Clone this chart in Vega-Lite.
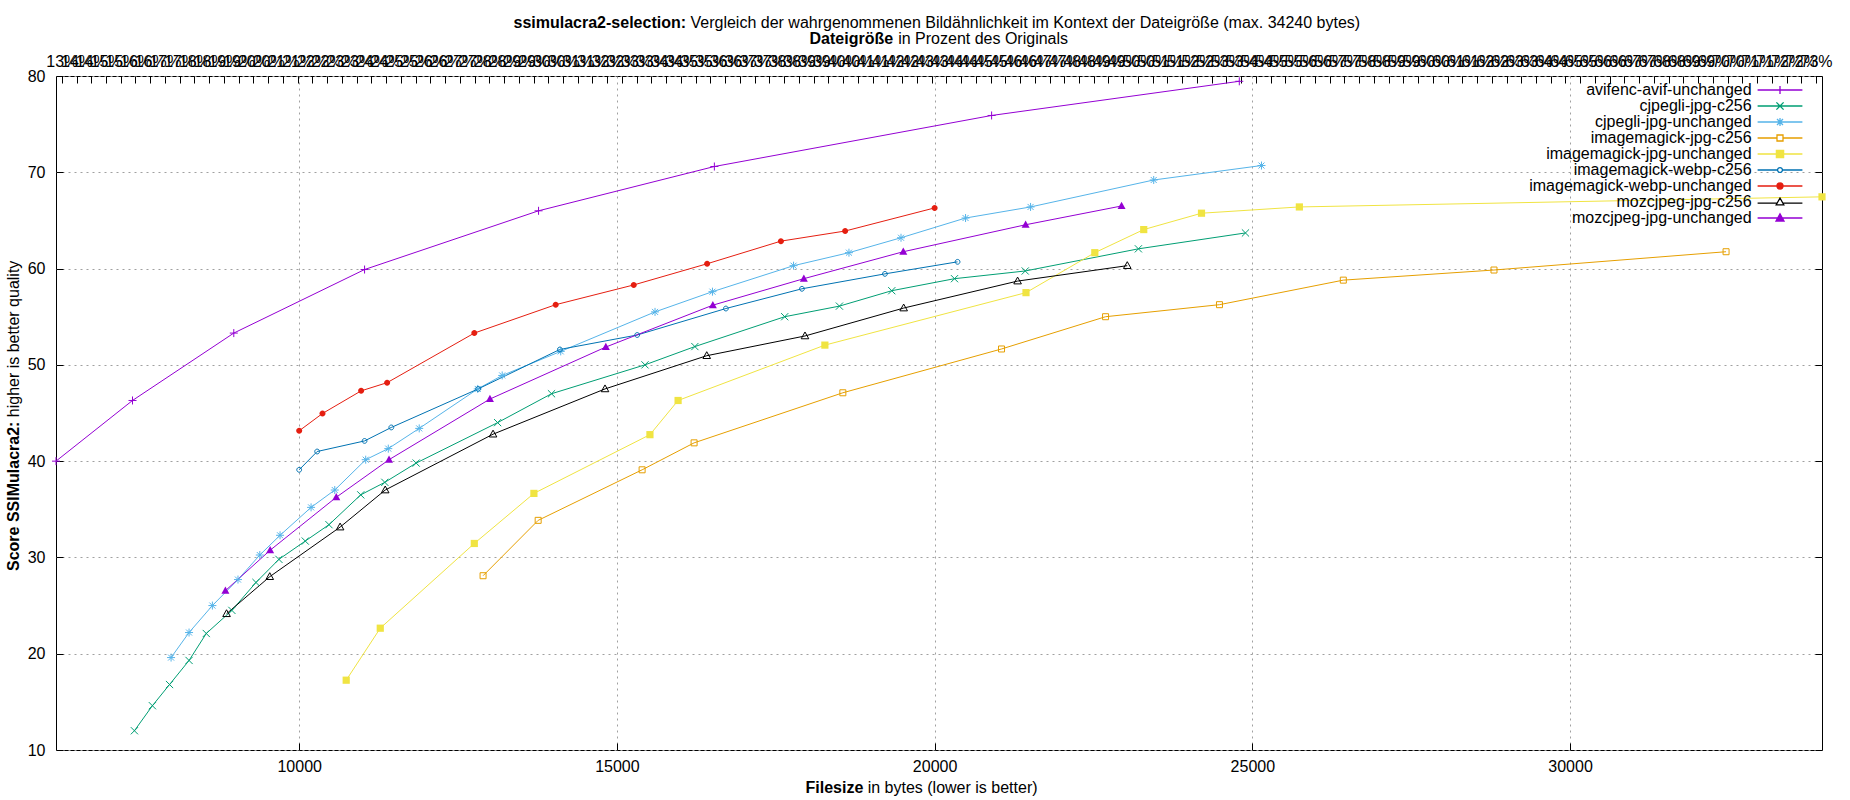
{
  "$schema": "https://vega.github.io/schema/vega-lite/v6.json",
  "description": "ssimulacra2-selection: score vs file size per encoder",
  "width": 1766,
  "height": 674,
  "autosize": {"type": "none"},
  "padding": {"left": 56, "top": 76, "right": 28, "bottom": 50},
  "background": "white",
  "config": {
    "view": {"stroke": "black", "strokeWidth": 1},
    "font": "Liberation Sans",
    "axis": {
      "labelFont": "Liberation Sans", "labelFontSize": 16, "labelColor": "black",
      "titleFont": "Liberation Sans", "titleFontSize": 16, "titleColor": "black",
      "titleFontWeight": "normal",
      "domain": false, "tickColor": "black", "tickWidth": 1, "tickSize": -7,
      "gridColor": "#a0a0a0", "gridDash": [2, 4], "gridWidth": 1, "gridOpacity": 1,
      "labelFlush": false, "labelOverlap": false, "labelBound": false
    }
  },
  "data": {
    "values": [
      {"series": "avifenc-avif-unchanged", "bytes": 6173, "score": 40.0},
      {"series": "avifenc-avif-unchanged", "bytes": 7377, "score": 46.3},
      {"series": "avifenc-avif-unchanged", "bytes": 8971, "score": 53.3},
      {"series": "avifenc-avif-unchanged", "bytes": 11029, "score": 59.9},
      {"series": "avifenc-avif-unchanged", "bytes": 13767, "score": 66.0},
      {"series": "avifenc-avif-unchanged", "bytes": 16534, "score": 70.6},
      {"series": "avifenc-avif-unchanged", "bytes": 20897, "score": 75.9},
      {"series": "avifenc-avif-unchanged", "bytes": 24795, "score": 79.45},

      {"series": "cjpegli-jpg-c256", "bytes": 7407, "score": 12.0},
      {"series": "cjpegli-jpg-c256", "bytes": 7690, "score": 14.6},
      {"series": "cjpegli-jpg-c256", "bytes": 7960, "score": 16.8},
      {"series": "cjpegli-jpg-c256", "bytes": 8267, "score": 19.3},
      {"series": "cjpegli-jpg-c256", "bytes": 8538, "score": 22.1},
      {"series": "cjpegli-jpg-c256", "bytes": 8941, "score": 24.5},
      {"series": "cjpegli-jpg-c256", "bytes": 9320, "score": 27.4},
      {"series": "cjpegli-jpg-c256", "bytes": 9681, "score": 29.8},
      {"series": "cjpegli-jpg-c256", "bytes": 10096, "score": 31.7},
      {"series": "cjpegli-jpg-c256", "bytes": 10469, "score": 33.4},
      {"series": "cjpegli-jpg-c256", "bytes": 10969, "score": 36.5},
      {"series": "cjpegli-jpg-c256", "bytes": 11348, "score": 37.8},
      {"series": "cjpegli-jpg-c256", "bytes": 11841, "score": 39.8},
      {"series": "cjpegli-jpg-c256", "bytes": 13123, "score": 44.0},
      {"series": "cjpegli-jpg-c256", "bytes": 13971, "score": 47.0},
      {"series": "cjpegli-jpg-c256", "bytes": 15442, "score": 50.0},
      {"series": "cjpegli-jpg-c256", "bytes": 16227, "score": 51.9},
      {"series": "cjpegli-jpg-c256", "bytes": 17641, "score": 55.0},
      {"series": "cjpegli-jpg-c256", "bytes": 18502, "score": 56.1},
      {"series": "cjpegli-jpg-c256", "bytes": 19326, "score": 57.7},
      {"series": "cjpegli-jpg-c256", "bytes": 20313, "score": 58.95},
      {"series": "cjpegli-jpg-c256", "bytes": 21426, "score": 59.75},
      {"series": "cjpegli-jpg-c256", "bytes": 23207, "score": 62.05},
      {"series": "cjpegli-jpg-c256", "bytes": 24892, "score": 63.7},

      {"series": "cjpegli-jpg-unchanged", "bytes": 7984, "score": 19.6},
      {"series": "cjpegli-jpg-unchanged", "bytes": 8267, "score": 22.2},
      {"series": "cjpegli-jpg-unchanged", "bytes": 8634, "score": 25.0},
      {"series": "cjpegli-jpg-unchanged", "bytes": 9037, "score": 27.7},
      {"series": "cjpegli-jpg-unchanged", "bytes": 9380, "score": 30.25},
      {"series": "cjpegli-jpg-unchanged", "bytes": 9699, "score": 32.3},
      {"series": "cjpegli-jpg-unchanged", "bytes": 10187, "score": 35.2},
      {"series": "cjpegli-jpg-unchanged", "bytes": 10560, "score": 37.0},
      {"series": "cjpegli-jpg-unchanged", "bytes": 11047, "score": 40.15},
      {"series": "cjpegli-jpg-unchanged", "bytes": 11402, "score": 41.3},
      {"series": "cjpegli-jpg-unchanged", "bytes": 11889, "score": 43.4},
      {"series": "cjpegli-jpg-unchanged", "bytes": 12810, "score": 47.5},
      {"series": "cjpegli-jpg-unchanged", "bytes": 13195, "score": 48.9},
      {"series": "cjpegli-jpg-unchanged", "bytes": 14116, "score": 51.4},
      {"series": "cjpegli-jpg-unchanged", "bytes": 15600, "score": 55.5},
      {"series": "cjpegli-jpg-unchanged", "bytes": 16504, "score": 57.6},
      {"series": "cjpegli-jpg-unchanged", "bytes": 17780, "score": 60.3},
      {"series": "cjpegli-jpg-unchanged", "bytes": 18652, "score": 61.65},
      {"series": "cjpegli-jpg-unchanged", "bytes": 19471, "score": 63.2},
      {"series": "cjpegli-jpg-unchanged", "bytes": 20487, "score": 65.25},
      {"series": "cjpegli-jpg-unchanged", "bytes": 21510, "score": 66.4},
      {"series": "cjpegli-jpg-unchanged", "bytes": 23448, "score": 69.2},
      {"series": "cjpegli-jpg-unchanged", "bytes": 25144, "score": 70.7},

      {"series": "imagemagick-jpg-c256", "bytes": 12894, "score": 28.1},
      {"series": "imagemagick-jpg-c256", "bytes": 13761, "score": 33.85},
      {"series": "imagemagick-jpg-c256", "bytes": 15397, "score": 39.1},
      {"series": "imagemagick-jpg-c256", "bytes": 16215, "score": 41.9},
      {"series": "imagemagick-jpg-c256", "bytes": 18556, "score": 47.1},
      {"series": "imagemagick-jpg-c256", "bytes": 21053, "score": 51.65},
      {"series": "imagemagick-jpg-c256", "bytes": 22690, "score": 55.0},
      {"series": "imagemagick-jpg-c256", "bytes": 24483, "score": 56.25},
      {"series": "imagemagick-jpg-c256", "bytes": 26432, "score": 58.8},
      {"series": "imagemagick-jpg-c256", "bytes": 28803, "score": 59.85},
      {"series": "imagemagick-jpg-c256", "bytes": 32455, "score": 61.75},

      {"series": "imagemagick-jpg-unchanged", "bytes": 10740, "score": 17.25},
      {"series": "imagemagick-jpg-unchanged", "bytes": 11276, "score": 22.65},
      {"series": "imagemagick-jpg-unchanged", "bytes": 12756, "score": 31.45},
      {"series": "imagemagick-jpg-unchanged", "bytes": 13694, "score": 36.65},
      {"series": "imagemagick-jpg-unchanged", "bytes": 15520, "score": 42.75},
      {"series": "imagemagick-jpg-unchanged", "bytes": 15963, "score": 46.3},
      {"series": "imagemagick-jpg-unchanged", "bytes": 18273, "score": 52.05},
      {"series": "imagemagick-jpg-unchanged", "bytes": 21438, "score": 57.5},
      {"series": "imagemagick-jpg-unchanged", "bytes": 22521, "score": 61.65},
      {"series": "imagemagick-jpg-unchanged", "bytes": 23291, "score": 64.05},
      {"series": "imagemagick-jpg-unchanged", "bytes": 24200, "score": 65.75},
      {"series": "imagemagick-jpg-unchanged", "bytes": 25740, "score": 66.4},
      {"series": "imagemagick-jpg-unchanged", "bytes": 33965, "score": 67.45},

      {"series": "imagemagick-webp-c256", "bytes": 10000, "score": 39.1},
      {"series": "imagemagick-webp-c256", "bytes": 10283, "score": 41.0},
      {"series": "imagemagick-webp-c256", "bytes": 11029, "score": 42.1},
      {"series": "imagemagick-webp-c256", "bytes": 11450, "score": 43.5},
      {"series": "imagemagick-webp-c256", "bytes": 12816, "score": 47.5},
      {"series": "imagemagick-webp-c256", "bytes": 14103, "score": 51.6},
      {"series": "imagemagick-webp-c256", "bytes": 15319, "score": 53.1},
      {"series": "imagemagick-webp-c256", "bytes": 16715, "score": 55.85},
      {"series": "imagemagick-webp-c256", "bytes": 17912, "score": 57.9},
      {"series": "imagemagick-webp-c256", "bytes": 19218, "score": 59.45},
      {"series": "imagemagick-webp-c256", "bytes": 20361, "score": 60.7},

      {"series": "imagemagick-webp-unchanged", "bytes": 10000, "score": 43.15},
      {"series": "imagemagick-webp-unchanged", "bytes": 10367, "score": 44.95},
      {"series": "imagemagick-webp-unchanged", "bytes": 10975, "score": 47.3},
      {"series": "imagemagick-webp-unchanged", "bytes": 11384, "score": 48.15},
      {"series": "imagemagick-webp-unchanged", "bytes": 12756, "score": 53.3},
      {"series": "imagemagick-webp-unchanged", "bytes": 14037, "score": 56.25},
      {"series": "imagemagick-webp-unchanged", "bytes": 15265, "score": 58.3},
      {"series": "imagemagick-webp-unchanged", "bytes": 16420, "score": 60.5},
      {"series": "imagemagick-webp-unchanged", "bytes": 17581, "score": 62.85},
      {"series": "imagemagick-webp-unchanged", "bytes": 18592, "score": 63.9},
      {"series": "imagemagick-webp-unchanged", "bytes": 20000, "score": 66.3},

      {"series": "mozcjpeg-jpg-c256", "bytes": 8857, "score": 24.15},
      {"series": "mozcjpeg-jpg-c256", "bytes": 9537, "score": 28.0},
      {"series": "mozcjpeg-jpg-c256", "bytes": 10644, "score": 33.15},
      {"series": "mozcjpeg-jpg-c256", "bytes": 11354, "score": 37.0},
      {"series": "mozcjpeg-jpg-c256", "bytes": 13051, "score": 42.8},
      {"series": "mozcjpeg-jpg-c256", "bytes": 14813, "score": 47.5},
      {"series": "mozcjpeg-jpg-c256", "bytes": 16414, "score": 50.95},
      {"series": "mozcjpeg-jpg-c256", "bytes": 17960, "score": 53.0},
      {"series": "mozcjpeg-jpg-c256", "bytes": 19513, "score": 55.9},
      {"series": "mozcjpeg-jpg-c256", "bytes": 21306, "score": 58.7},
      {"series": "mozcjpeg-jpg-c256", "bytes": 23032, "score": 60.3},

      {"series": "mozcjpeg-jpg-unchanged", "bytes": 8839, "score": 26.55},
      {"series": "mozcjpeg-jpg-unchanged", "bytes": 9543, "score": 30.75},
      {"series": "mozcjpeg-jpg-unchanged", "bytes": 10584, "score": 36.25},
      {"series": "mozcjpeg-jpg-unchanged", "bytes": 11414, "score": 40.15},
      {"series": "mozcjpeg-jpg-unchanged", "bytes": 13002, "score": 46.45},
      {"series": "mozcjpeg-jpg-unchanged", "bytes": 14826, "score": 51.85},
      {"series": "mozcjpeg-jpg-unchanged", "bytes": 16510, "score": 56.2},
      {"series": "mozcjpeg-jpg-unchanged", "bytes": 17942, "score": 58.95},
      {"series": "mozcjpeg-jpg-unchanged", "bytes": 19507, "score": 61.75},
      {"series": "mozcjpeg-jpg-unchanged", "bytes": 21432, "score": 64.55},
      {"series": "mozcjpeg-jpg-unchanged", "bytes": 22942, "score": 66.5}
    ]
  },
  "resolve": {"axis": {"x": "independent", "y": "independent"}},
  "layer": [
    {
      "mark": {"type": "line", "strokeWidth": 1},
      "encoding": {
        "x": {
          "field": "bytes", "type": "quantitative",
          "scale": {"domain": [6173, 33965], "nice": false, "zero": false},
          "axis": {
            "orient": "bottom", "values": [10000, 15000, 20000, 25000, 30000], "format": "d",
            "grid": true, "labelBaseline": "alphabetic", "labelPadding": 28.5,
            "title": "Filesize", "titleFontWeight": "bold",
            "titleX": 749, "titleY": 42, "titleAlign": "left", "titleBaseline": "alphabetic", "titleAngle": 0
          }
        },
        "y": {
          "field": "score", "type": "quantitative",
          "scale": {"domain": [10, 80], "nice": false, "zero": false},
          "axis": {
            "orient": "left", "values": [10, 20, 30, 40, 50, 60, 70, 80],
            "grid": true, "labelPadding": 18, "labelBaseline": "middle", "labelAlign": "right",
            "title": "Score SSIMulacra2:", "titleFontWeight": "bold", "titleAngle": 270,
            "titleX": -38, "titleY": 494.5, "titleAlign": "left", "titleBaseline": "alphabetic"
          }
        },
        "color": {
          "field": "series", "type": "nominal",
          "scale": {
            "domain": ["avifenc-avif-unchanged", "cjpegli-jpg-c256", "cjpegli-jpg-unchanged", "imagemagick-jpg-c256", "imagemagick-jpg-unchanged", "imagemagick-webp-c256", "imagemagick-webp-unchanged", "mozcjpeg-jpg-c256", "mozcjpeg-jpg-unchanged"],
            "range": ["#9400d3", "#009e73", "#56b4e9", "#e69f00", "#f0e442", "#0072b2", "#e51e10", "#000000", "#9400d3"]
          },
          "legend": {
            "title": null, "orient": "none", "legendX": 1716, "legendY": 6, "direction": "vertical",
            "padding": 0, "rowPadding": -2, "symbolSize": 64,
            "labelAlign": "right", "labelOffset": -36.4, "labelLimit": 400,
            "labelFont": "Liberation Sans", "labelFontSize": 16, "labelColor": "black",
            "encode": {
              "symbols": {
                "update": {
                  "shape": {"signal": "{'avifenc-avif-unchanged': 'M-5.6,0H5.6M-1,0H1M0,-1V1', 'cjpegli-jpg-c256': 'M-5.6,0H5.6M-0.9,-0.9L0.9,0.9M-0.9,0.9L0.9,-0.9', 'cjpegli-jpg-unchanged': 'M-5.6,0H5.6M-1,0H1M0,-1V1M-0.75,-0.75L0.75,0.75M-0.75,0.75L0.75,-0.75', 'imagemagick-jpg-c256': 'M-5.6,0H-0.75M0.75,0H5.6M-0.75,-0.75H0.75V0.75H-0.75Z', 'imagemagick-jpg-unchanged': 'M-5.6,0H5.6M-0.9,-0.9H0.9V0.9H-0.9Z', 'imagemagick-webp-c256': 'M-5.6,0H-0.6M0.6,0H5.6M-0.6,0A0.6,0.6,0,1,0,0.6,0A0.6,0.6,0,1,0,-0.6,0Z', 'imagemagick-webp-unchanged': 'M-5.6,0H5.6M-0.75,0A0.75,0.75,0,1,0,0.75,0A0.75,0.75,0,1,0,-0.75,0Z', 'mozcjpeg-jpg-c256': 'M-5.6,0.3H-0.8M0.8,0.3H5.6M0,-1L0.95,0.7H-0.95Z', 'mozcjpeg-jpg-unchanged': 'M-5.6,0H5.6M0,-1.05L1,0.75H-1Z'}[datum.value]"},
                  "fill": {"signal": "indexof(['imagemagick-jpg-unchanged', 'imagemagick-webp-unchanged', 'mozcjpeg-jpg-unchanged'], datum.value) >= 0 ? scale('color', datum.value) : 'transparent'"},
                  "strokeWidth": {"value": 1.3},
                  "opacity": {"value": 1}
                }
              }
            }
          }
        }
      }
    },
    {
      "transform": [{"filter": {"field": "series", "oneOf": ["avifenc-avif-unchanged", "cjpegli-jpg-c256", "cjpegli-jpg-unchanged"]}}],
      "mark": {"type": "point", "filled": false, "strokeWidth": 1, "size": 64, "opacity": 1},
      "encoding": {
        "x": {
          "field": "bytes", "type": "quantitative",
          "scale": {"domain": [6173, 33965], "nice": false, "zero": false},
          "axis": {
            "orient": "top",
            "values": [6264, 6496, 6728, 6960, 7192, 7424, 7656, 7888, 8120, 8352, 8584, 8816, 9048, 9280, 9512, 9744, 9976, 10208, 10440, 10672, 10904, 11136, 11368, 11600, 11832, 12064, 12296, 12528, 12760, 12992, 13224, 13456, 13688, 13920, 14152, 14384, 14616, 14848, 15080, 15312, 15544, 15776, 16008, 16240, 16472, 16704, 16936, 17168, 17400, 17632, 17864, 18096, 18328, 18560, 18792, 19024, 19256, 19488, 19720, 19952, 20184, 20416, 20648, 20880, 21112, 21344, 21576, 21808, 22040, 22272, 22504, 22736, 22968, 23200, 23432, 23664, 23896, 24128, 24360, 24592, 24824, 25056, 25288, 25520, 25752, 25984, 26216, 26448, 26680, 26912, 27144, 27376, 27608, 27840, 28072, 28304, 28536, 28768, 29000, 29232, 29464, 29696, 29928, 30160, 30392, 30624, 30856, 31088, 31320, 31552, 31784, 32016, 32248, 32480, 32712, 32944, 33176, 33408, 33640, 33872],
            "labelExpr": "floor(datum.value / 464) + '%'",
            "labelBaseline": "alphabetic", "labelPadding": 17, "grid": false,
            "title": "Dateigröße", "titleFontWeight": "bold",
            "titleX": 753, "titleY": -33, "titleAlign": "left", "titleBaseline": "alphabetic", "titleAngle": 0
          }
        },
        "y": {
          "field": "score", "type": "quantitative",
          "scale": {"domain": [10, 80], "nice": false, "zero": false},
          "axis": {
            "orient": "right", "values": [10, 20, 30, 40, 50, 60, 70, 80],
            "labels": false, "grid": false,
            "title": "ssimulacra2-selection:", "titleFontWeight": "bold", "titleAngle": 0,
            "titleX": -1309, "titleY": -48.5, "titleAlign": "left", "titleBaseline": "alphabetic"
          }
        },
        "stroke": {
          "field": "series", "type": "nominal", "legend": null,
          "scale": {
            "domain": ["mozcjpeg-jpg-unchanged", "mozcjpeg-jpg-c256", "imagemagick-webp-unchanged", "imagemagick-webp-c256", "imagemagick-jpg-unchanged", "imagemagick-jpg-c256", "cjpegli-jpg-unchanged", "cjpegli-jpg-c256", "avifenc-avif-unchanged"],
            "range": ["#9400d3", "#000000", "#e51e10", "#0072b2", "#f0e442", "#e69f00", "#56b4e9", "#009e73", "#9400d3"]
          }
        },
        "shape": {
          "field": "series", "type": "nominal", "legend": null,
          "scale": {
            "domain": ["mozcjpeg-jpg-unchanged", "mozcjpeg-jpg-c256", "imagemagick-webp-unchanged", "imagemagick-webp-c256", "imagemagick-jpg-unchanged", "imagemagick-jpg-c256", "cjpegli-jpg-unchanged", "cjpegli-jpg-c256", "avifenc-avif-unchanged"],
            "range": ["M0,-1.05L1,0.75H-1Z", "M0,-1L0.95,0.7H-0.95Z", "M-0.75,0A0.75,0.75,0,1,0,0.75,0A0.75,0.75,0,1,0,-0.75,0Z", "M-0.6,0A0.6,0.6,0,1,0,0.6,0A0.6,0.6,0,1,0,-0.6,0Z", "M-0.9,-0.9H0.9V0.9H-0.9Z", "M-0.75,-0.75H0.75V0.75H-0.75Z", "M-1,0H1M0,-1V1M-0.75,-0.75L0.75,0.75M-0.75,0.75L0.75,-0.75", "M-0.9,-0.9L0.9,0.9M-0.9,0.9L0.9,-0.9", "M-1,0H1M0,-1V1"]
          }
        }
      }
    },
    {
      "transform": [{"filter": {"field": "series", "oneOf": ["imagemagick-jpg-c256", "imagemagick-webp-c256", "mozcjpeg-jpg-c256"]}}],
      "mark": {"type": "point", "filled": false, "strokeWidth": 1, "size": 64, "opacity": 1},
      "encoding": {
        "x": {
          "field": "bytes", "type": "quantitative",
          "scale": {"domain": [6173, 33965], "nice": false, "zero": false},
          "axis": {
            "orient": "bottom", "labels": false, "ticks": false, "grid": false,
            "title": "in bytes (lower is better)",
            "titleX": 811.2, "titleY": 42, "titleAlign": "left", "titleBaseline": "alphabetic", "titleAngle": 0
          }
        },
        "y": {
          "field": "score", "type": "quantitative",
          "scale": {"domain": [10, 80], "nice": false, "zero": false},
          "axis": {
            "orient": "left", "labels": false, "ticks": false, "grid": false,
            "title": "higher is better quality", "titleAngle": 270,
            "titleX": -38, "titleY": 340.7, "titleAlign": "left", "titleBaseline": "alphabetic"
          }
        },
        "stroke": {"field": "series", "type": "nominal", "legend": null},
        "shape": {"field": "series", "type": "nominal", "legend": null}
      }
    },
    {
      "transform": [{"filter": {"field": "series", "oneOf": ["imagemagick-jpg-unchanged", "imagemagick-webp-unchanged", "mozcjpeg-jpg-unchanged"]}}],
      "mark": {"type": "point", "filled": true, "size": 64, "opacity": 1},
      "encoding": {
        "x": {
          "field": "bytes", "type": "quantitative",
          "scale": {"domain": [6173, 33965], "nice": false, "zero": false},
          "axis": {
            "orient": "top", "labels": false, "ticks": false, "grid": false,
            "title": "in Prozent des Originals",
            "titleX": 841.7, "titleY": -33, "titleAlign": "left", "titleBaseline": "alphabetic", "titleAngle": 0
          }
        },
        "y": {
          "field": "score", "type": "quantitative",
          "scale": {"domain": [10, 80], "nice": false, "zero": false},
          "axis": {
            "orient": "left", "labels": false, "ticks": false, "grid": false,
            "title": "Vergleich der wahrgenommenen Bildähnlichkeit im Kontext der Dateigröße (max. 34240 bytes)",
            "titleAngle": 0, "titleX": 634, "titleY": -48.5, "titleAlign": "left", "titleBaseline": "alphabetic"
          }
        },
        "fill": {
          "field": "series", "type": "nominal", "legend": null,
          "scale": {
            "domain": ["mozcjpeg-jpg-unchanged", "mozcjpeg-jpg-c256", "imagemagick-webp-unchanged", "imagemagick-webp-c256", "imagemagick-jpg-unchanged", "imagemagick-jpg-c256", "cjpegli-jpg-unchanged", "cjpegli-jpg-c256", "avifenc-avif-unchanged"],
            "range": ["#9400d3", "#000000", "#e51e10", "#0072b2", "#f0e442", "#e69f00", "#56b4e9", "#009e73", "#9400d3"]
          }
        },
        "shape": {"field": "series", "type": "nominal", "legend": null}
      }
    }
  ]
}
